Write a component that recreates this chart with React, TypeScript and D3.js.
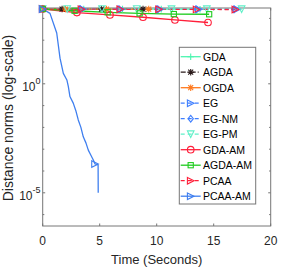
import { useEffect, useRef } from 'react';
import * as d3 from 'd3';

// series data: time (s) and distance norm values
const gdaT = [0, 3.6, 7.0, 10.4, 13.8];
const gdaV = [2700, 2680, 2660, 2650, 2640];

const agdaT = [0, 1.7, 5.15, 8.8];
const agdaV = [2700, 2690, 2680, 2670];

const ogdaT = [0, 2.0, 5.6, 9.3];
const ogdaV = [2700, 2690, 2680, 2670];

const egT = [0, 3.5, 6.9, 10.3, 13.7, 17.05];
const egV = [2700, 2670, 2650, 2630, 2610, 2600];

const egnmT = [0, 3.3, 6.7, 10.1, 13.5, 16.8];
const egnmV = [2700, 2670, 2650, 2630, 2610, 2600];

const egpmT = [0, 2.15, 5.2, 8.25, 11.3, 14.4, 17.45];
const egpmV = [2700, 2690, 2680, 2670, 2660, 2650, 2640];

const gdaamT = [0, 3.0, 5.9, 8.8, 11.6, 14.5];
const gdaamV = [2700, 1860, 1450, 1130, 850, 650];

const agdaamT = [0, 2.8, 5.7, 8.5, 11.5, 14.6];
const agdaamV = [2700, 2240, 1900, 1700, 1580, 1550];

const pcaaT = [0, 3.4, 6.8, 10.2, 13.5, 16.9];
const pcaaV = [2700, 2650, 2620, 2600, 2580, 2560];

const pcaaamT = [0, 0.64, 1.23, 1.52, 1.81, 2.12, 2.25, 2.39, 2.68, 2.9, 3.12, 3.35, 3.56, 3.8, 4.0, 4.25, 4.44, 4.59, 4.86, 4.87];
const pcaaamV = [2700, 1700, 214, 15, 3.0, 1.5, 0.74, 0.26, 0.13, 0.06, 0.022, 0.01, 0.0037, 0.0019, 0.00091, 0.0005, 0.00032, 0.00021, 0.00019, 0.00001];
const pcaaamMarks = [0, 17];

const legendNames = ['GDA', 'AGDA', 'OGDA', 'EG', 'EG-NM', 'EG-PM', 'GDA-AM', 'AGDA-AM', 'PCAA', 'PCAA-AM'];

const xTicks = [0, 5, 10, 15, 20];
const yMajor = [0, -5];
const yMinor = [3, 2, 1, 0, -1, -2, -3, -4, -5, -6];

type Marker = 'plus' | 'star' | 'right' | 'diamond' | 'down' | 'circle' | 'square';

interface Series {
  name: string;
  t: number[];
  v: number[];
  color: string;
  dash: string | null;
  marker: Marker;
  marks?: number[];
}

const series: Series[] = [
  { name: legendNames[0], t: gdaT, v: gdaV, color: '#4df5b0', dash: null, marker: 'plus' },
  { name: legendNames[1], t: agdaT, v: agdaV, color: '#2a1a1a', dash: '5,2,1,2', marker: 'star' },
  { name: legendNames[2], t: ogdaT, v: ogdaV, color: '#ff7a1f', dash: null, marker: 'star' },
  { name: legendNames[3], t: egT, v: egV, color: '#3f7fff', dash: '4,3', marker: 'right' },
  { name: legendNames[4], t: egnmT, v: egnmV, color: '#3f7fff', dash: '4,3', marker: 'diamond' },
  { name: legendNames[5], t: egpmT, v: egpmV, color: '#5ff0c8', dash: '4,3', marker: 'down' },
  { name: legendNames[6], t: gdaamT, v: gdaamV, color: '#ff1f3a', dash: null, marker: 'circle' },
  { name: legendNames[7], t: agdaamT, v: agdaamV, color: '#1fcc1f', dash: null, marker: 'square' },
  { name: legendNames[8], t: pcaaT, v: pcaaV, color: '#ff1f3a', dash: '4,3', marker: 'right' },
  { name: legendNames[9], t: pcaaamT, v: pcaaamV, color: '#3f7fef', dash: null, marker: 'right', marks: pcaaamMarks },
];

const W = 287;
const H = 268;
const plot = { left: 42.7, right: 270.7, top: 8, bottom: 226 };
const font = '"Liberation Sans", Arial, Helvetica, sans-serif';

function drawMarker(g: d3.Selection<SVGGElement, unknown, null, undefined>, kind: Marker, x: number, y: number, color: string) {
  const s = 3.3;
  const common = (sel: any) => sel.attr('fill', 'none').attr('stroke', color).attr('stroke-width', 1.1);
  if (kind === 'plus') {
    common(g.append('path').attr('d', `M${x - s},${y}H${x + s}M${x},${y - s}V${y + s}`));
  } else if (kind === 'star') {
    const d = s * 0.75;
    common(g.append('path').attr('d', `M${x - s},${y}H${x + s}M${x},${y - s}V${y + s}M${x - d},${y - d}L${x + d},${y + d}M${x - d},${y + d}L${x + d},${y - d}`));
  } else if (kind === 'right') {
    common(g.append('path').attr('d', `M${x - s},${y - s}L${x + s},${y}L${x - s},${y + s}Z`));
  } else if (kind === 'down') {
    common(g.append('path').attr('d', `M${x - s},${y - s}L${x + s},${y - s}L${x},${y + s}Z`));
  } else if (kind === 'diamond') {
    common(g.append('path').attr('d', `M${x},${y - s}L${x + s * 0.8},${y}L${x},${y + s}L${x - s * 0.8},${y}Z`));
  } else if (kind === 'circle') {
    common(g.append('circle').attr('cx', x).attr('cy', y).attr('r', s));
  } else if (kind === 'square') {
    common(g.append('rect').attr('x', x - 2.6).attr('y', y - 2.6).attr('width', 5.2).attr('height', 5.2));
  }
}

export default function App() {
  const svgRef = useRef<SVGSVGElement>(null);

  useEffect(() => {
    if (!svgRef.current) return;
    const svg = d3.select(svgRef.current);
    svg.selectAll('*').remove();

    const x = d3.scaleLinear().domain([0, 20]).range([plot.left, plot.right]);
    const y = d3.scaleLog().domain([3e-7, 3e3]).range([plot.bottom, plot.top]);

    svg.append('rect').attr('width', W).attr('height', H).attr('fill', '#fff');

    // clip for the lines
    svg.append('defs').append('clipPath').attr('id', 'plotclip')
      .append('rect')
      .attr('x', plot.left).attr('y', plot.top - 4)
      .attr('width', plot.right - plot.left).attr('height', plot.bottom - plot.top + 4);

    const axisColor = '#767676';

    // axes box
    svg.append('rect')
      .attr('x', plot.left).attr('y', plot.top)
      .attr('width', plot.right - plot.left).attr('height', plot.bottom - plot.top)
      .attr('fill', 'none').attr('stroke', axisColor).attr('stroke-width', 1);

    // x ticks
    xTicks.forEach(t => {
      const px = x(t);
      svg.append('line').attr('x1', px).attr('x2', px).attr('y1', plot.bottom).attr('y2', plot.bottom - 2.5)
        .attr('stroke', axisColor);
      svg.append('line').attr('x1', px).attr('x2', px).attr('y1', plot.top).attr('y2', plot.top + 2.5)
        .attr('stroke', axisColor);
      svg.append('text').attr('x', px).attr('y', 244.5)
        .attr('text-anchor', 'middle').attr('font-family', font).attr('font-size', 12).attr('fill', '#262626')
        .text(String(t));
    });

    // y ticks (minor every decade, major labelled)
    yMinor.forEach(e => {
      const py = y(Math.pow(10, e));
      const len = yMajor.includes(e) ? 2.5 : 1.6;
      svg.append('line').attr('x1', plot.left).attr('x2', plot.left + len).attr('y1', py).attr('y2', py).attr('stroke', axisColor);
      svg.append('line').attr('x1', plot.right).attr('x2', plot.right - len).attr('y1', py).attr('y2', py).attr('stroke', axisColor);
    });
    yMajor.forEach(e => {
      const py = y(Math.pow(10, e));
      const txt = svg.append('text').attr('x', 40.5).attr('y', py + 7)
        .attr('text-anchor', 'end').attr('font-family', font).attr('font-size', 12).attr('fill', '#262626');
      txt.append('tspan').text('10');
      txt.append('tspan').attr('font-size', 9).attr('dy', -7).text(String(e));
    });

    // axis labels
    svg.append('text').attr('x', (plot.left + plot.right) / 2).attr('y', 263.5)
      .attr('text-anchor', 'middle').attr('font-family', font).attr('font-size', 13).attr('fill', '#262626')
      .text('Time (Seconds)');
    svg.append('text').attr('transform', `translate(13,${(plot.top + plot.bottom) / 2 + 1}) rotate(-90)`)
      .attr('text-anchor', 'middle').attr('font-family', font).attr('font-size', 14).attr('fill', '#262626')
      .text('Distance norms (log-scale)');

    // lines
    const lineGen = d3.line<[number, number]>().x(d => x(d[0])).y(d => y(d[1]));
    const lg = svg.append('g').attr('clip-path', 'url(#plotclip)');
    series.forEach(s => {
      const pts: [number, number][] = s.t.map((t, i) => [t, s.v[i]]);
      const path = lg.append('path').attr('d', lineGen(pts))
        .attr('fill', 'none').attr('stroke', s.color).attr('stroke-width', 1.3)
        .attr('stroke-linejoin', 'round');
      if (s.dash) path.attr('stroke-dasharray', s.dash);
      const idx = s.marks ?? s.t.map((_, i) => i);
      const mg = svg.append('g');
      idx.forEach(i => drawMarker(mg as any, s.marker, x(s.t[i]), y(s.v[i]), s.color));
    });

    // legend
    const leg = { x: 179.3, y: 47.3, w: 76.4, h: 156.7 };
    svg.append('rect').attr('x', leg.x).attr('y', leg.y).attr('width', leg.w).attr('height', leg.h)
      .attr('fill', '#fff').attr('stroke', axisColor).attr('stroke-width', 1);
    const lgnd = svg.append('g');
    series.forEach((s, i) => {
      const cy = 56.7 + i * 15.5;
      const l = lgnd.append('line').attr('x1', 180.7).attr('x2', 200.7).attr('y1', cy).attr('y2', cy)
        .attr('stroke', s.color).attr('stroke-width', 1.3);
      if (s.dash) l.attr('stroke-dasharray', s.dash);
      drawMarker(lgnd as any, s.marker, 190.7, cy, s.color);
      lgnd.append('text').attr('x', 203).attr('y', cy + 3.8)
        .attr('font-family', font).attr('font-size', 10.5).attr('fill', '#000')
        .text(s.name);
    });
  }, []);

  return (
    <div style={{ position: 'absolute', left: 0, top: 0 }}>
      <svg ref={svgRef} width={W} height={H} />
    </div>
  );
}
